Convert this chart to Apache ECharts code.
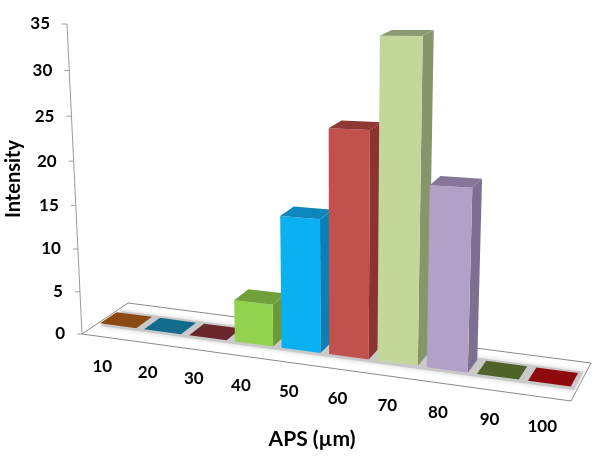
<!DOCTYPE html>
<html>
<head>
<meta charset="utf-8">
<style>html,body{margin:0;padding:0;background:#fff}#c{width:600px;height:460px}</style>
<script src="https://cdn.jsdelivr.net/npm/echarts@6/dist/echarts.min.js"></script>
</head>
<body>
<div id="c"></div>
<script>
var categories = ['10','20','30','40','50','60','70','80','90','100'];
var intensity = [0,0,0,4.7,14.5,24,33.3,18.8,0,0];
var yTicks = [0,5,10,15,20,25,30,35];
var frontColors = ['#8a4a12','#136b8c','#6a262b','#92d24e','#0bb0f0','#c2504d','#c4d79b','#b2a1c7','#4f6228','#8f0a0e'];
var sideColors  = ['#6e3a0c','#0e566f','#551e22','#6c9a36','#0b80b6','#8c3331','#87966a','#7d6e92','#3f4e20','#70080b'];
var topColors   = ['#8a4a12','#136b8c','#6a262b','#70a03a','#0c86bc','#8f3735','#8c9b72','#86769a','#4f6228','#8f0a0e'];
var xTitle = 'APS (\u00b5m)';
var yTitle = 'Intensity';

// Perspective camera: solved from the corners of the chart box on the page.
var G = {l:50,t:30,w:500,h:400};
var anchors = [
  [0,0,0,82,334],[1,0,0,571,401],[0,1,0,128,303],[1,1,0,591,363],[0,0,1,67,24]
];
function solveCamera(){
  var A=[];
  anchors.forEach(function(p){
    var u=p[0],d=p[1],h=p[2],X=p[3],Y=p[4];
    A.push([u,d,h,1,0,0,0,0,-X*u,-X*d,-X*h,X]);
    A.push([0,0,0,0,u,d,h,1,-Y*u,-Y*d,-Y*h,Y]);
  });
  A.push([1,0,1,1,0,0,0,0,-586,0,-586,586]);
  var n=11;
  for(var i=0;i<n;i++){
    var m=i;for(var r=i+1;r<n;r++)if(Math.abs(A[r][i])>Math.abs(A[m][i]))m=r;
    var t=A[i];A[i]=A[m];A[m]=t;
    for(r=0;r<n;r++){ if(r===i)continue;
      var f=A[r][i]/A[i][i];
      for(var c=i;c<=n;c++)A[r][c]-=f*A[i][c];
    }
  }
  return A.map(function(row,i){return row[n]/row[i];});
}
var K=solveCamera();
var RISE=0.11;
function project(u,d,h0){
  var h=h0*(1+RISE*u);
  var w=K[8]*u+K[9]*d+K[10]*h+1;
  return [(K[0]*u+K[1]*d+K[2]*h+K[3])/w,(K[4]*u+K[5]*d+K[6]*h+K[7])/w];
}
function toU(px){return (px-G.l)/G.w;}
function toH(py){return (G.t+G.h-py)/G.h;}

var D0=0.34,D1=0.70,BAR=0.82,SHIFT=-0.005,FONT='Lato, "Open Sans", sans-serif';
function poly(pts,fill,extra){
  var s={fill:fill,stroke:null};
  if(extra)for(var k in extra)s[k]=extra[k];
  return {type:'polygon',shape:{points:pts},style:s};
}
function barItem(params,api){
  var i=api.value(0),v=api.value(1);
  var top=api.coord([i,v]),bw=api.size([1,0])[0]*BAR;
  var u0=toU(top[0]-bw/2)+SHIFT,u1=toU(top[0]+bw/2)+SHIFT,h=toH(top[1]);
  var kids=[];
  if(v>0){
    kids.push(poly([project(u1,D0,0),project(u1,D1,0),project(u1,D1,h),project(u1,D0,h)],sideColors[i]));
    kids.push(poly([project(u0,D0,0),project(u1,D0,0),project(u1,D0,h),project(u0,D0,h)],frontColors[i]));
  }
  kids.push(poly([project(u0,D0,h),project(u1,D0,h),project(u1,D1,h),project(u0,D1,h)],topColors[i]));
  return {type:'group',children:kids};
}
function floorItem(){
  var a=project(0,0,0),b=project(1,0,0),c=project(1,1,0),d=project(0,1,0);
  return {type:'group',children:[
    poly([a,b,c,d],'#ffffff',{stroke:'#8a8a8a',lineWidth:1}),
    poly([project(0.012,D0-0.07,0),project(0.995,D0-0.07,0),project(0.995,D1+0.05,0),project(0.012,D1+0.05,0)],'#c9c9c9',{shadowBlur:5,shadowColor:'#d0d0d0'})
  ]};
}
function yTickItem(params,api){
  var p=api.coord([0,api.value(0)]);
  var h=toH(p[1]),q=project(0,0,h);
  return {type:'group',children:[
    {type:'line',shape:{x1:q[0]-5,y1:q[1],x2:q[0],y2:q[1]},style:{stroke:'#a0a0a0',lineWidth:1}},
    {type:'text',style:{x:q[0]-17,y:q[1],text:String(api.value(0)),textAlign:'right',textVerticalAlign:'middle',font:'bold 17px '+FONT,fill:'#000'}}
  ]};
}
function yLineItem(){
  var a=project(0,0,0),b=project(0,0,1);
  return {type:'line',shape:{x1:a[0],y1:a[1],x2:b[0],y2:b[1]},style:{stroke:'#9a9a9a',lineWidth:1}};
}
function xLabelItem(params,api){
  var i=api.value(0),p=api.coord([i,0]);
  var q=project(toU(p[0]),0,0);
  return {type:'text',style:{x:q[0]-2,y:q[1]+29,text:categories[i],textAlign:'center',textVerticalAlign:'middle',font:'bold 17px '+FONT,fill:'#000'}};
}
function titleItem(){
  return {type:'group',children:[
    {type:'text',x:14,y:179,rotation:Math.PI/2,style:{x:0,y:0,text:yTitle,textAlign:'center',textVerticalAlign:'middle',font:'bold 20px '+FONT,fill:'#000'}},
    {type:'text',style:{x:312,y:439,text:xTitle,textAlign:'center',textVerticalAlign:'middle',font:'bold 21px '+FONT,fill:'#000'}}
  ]};
}
var chart=echarts.init(document.getElementById('c'),null,{renderer:'canvas'});
chart.setOption({
  animation:false,
  backgroundColor:'#ffffff',
  grid:{left:G.l,top:G.t,width:G.w,height:G.h},
  xAxis:{type:'category',data:categories,show:false},
  yAxis:{type:'value',min:0,max:35,interval:5,show:false},
  series:[
    {type:'custom',name:'floor',data:[[0,0]],renderItem:floorItem,silent:true,clip:false},
    {type:'custom',name:'y axis',data:[[0,0]],renderItem:yLineItem,silent:true,clip:false},
    {type:'custom',name:'y ticks',data:yTicks.map(function(t){return [t];}),encode:{y:0},renderItem:yTickItem,silent:true,clip:false},
    {type:'custom',name:'x labels',data:categories.map(function(c,i){return [i];}),renderItem:xLabelItem,silent:true,clip:false},
    {type:'custom',name:'titles',data:[[0,0]],renderItem:titleItem,silent:true,clip:false},
    {type:'custom',name:'Intensity',data:intensity.map(function(v,i){return [i,v];}),encode:{x:0,y:1},renderItem:barItem,silent:true,clip:false}
  ]
});
</script>
</body>
</html>
